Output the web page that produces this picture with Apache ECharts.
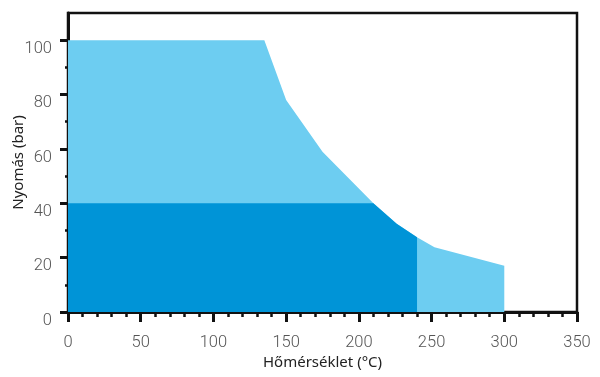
<!DOCTYPE html>
<html>
<head>
<meta charset="utf-8">
<script src="https://cdn.jsdelivr.net/npm/echarts@6/dist/echarts.min.js"></script>
<style>html,body{margin:0;padding:0;background:#fff}#c{width:600px;height:377px}</style>
</head>
<body>
<div id="c"></div>
<script>
// Temperature (°C) and pressure (bar) boundary points
const outerTemps = [0, 135, 150, 175, 210, 226, 240, 252, 300];
const outerPressures = [100, 100, 78, 59, 40, 32.5, 27.5, 23.8, 17];
const innerTemps = [0, 210, 226, 240];
const innerPressures = [40, 40, 32.5, 27.5];
const xTicks = [0, 50, 100, 150, 200, 250, 300, 350];
const yTicks = [0, 20, 40, 60, 80, 100];
const yMinorTicks = [10, 30, 50, 70, 90];
const xName = 'Hőmérséklet (°C)';
const yName = 'Nyomás (bar)';

const outerData = outerTemps.map((t, i) => [t, outerPressures[i]]);
const innerData = innerTemps.map((t, i) => [t, innerPressures[i]]);

const chart = echarts.init(document.getElementById('c'), null, {renderer: 'canvas'});
const labelFont = {color: '#555', fontSize: 16.5, fontFamily: 'Roboto', fontWeight: 300};
chart.setOption({
  animation: false,
  grid: {left: 68, right: 23, top: 13, bottom: 65, show: true, borderColor: '#111', borderWidth: 2.5, backgroundColor: 'transparent', containLabel: false, outerBoundsMode: 'none'},
  xAxis: {
    type: 'value', min: 0, max: 350, interval: 50,
    name: xName, nameLocation: 'middle', nameGap: 43, nameMoveOverlap: false,
    nameTextStyle: {color: '#222', fontSize: 15, fontFamily: 'Noto Sans'},
    axisLine: {show: true, onZero: false, lineStyle: {color: '#111', width: 3}},
    axisTick: {show: true, length: 10, lineStyle: {color: '#111', width: 3}},
    minorTick: {show: true, splitNumber: 5, length: 5, lineStyle: {color: '#111', width: 2.5}},
    splitLine: {show: false},
    axisLabel: Object.assign({margin: 22, hideOverlap: false, formatter: v => xTicks.includes(v) ? String(v) : ''}, labelFont)
  },
  yAxis: [{
    type: 'value', min: 0, max: 110, interval: 20,
    name: yName, nameLocation: 'middle', nameGap: 42, nameMoveOverlap: false,
    nameTextStyle: {color: '#222', fontSize: 15, fontFamily: 'Noto Sans'},
    axisLine: {show: true, onZero: false, lineStyle: {color: '#111', width: 3}},
    axisTick: {show: true, length: 8, customValues: yTicks, lineStyle: {color: '#111', width: 3}},
    minorTick: {show: false},
    splitLine: {show: false},
    axisLabel: Object.assign({margin: 16, verticalAlign: 'top', hideOverlap: false, customValues: yTicks}, labelFont)
  }, {
    type: 'value', min: 0, max: 110, position: 'left',
    axisLine: {show: false},
    axisTick: {show: true, length: 3, customValues: yMinorTicks, lineStyle: {color: '#111', width: 2.5}},
    axisLabel: {show: false},
    splitLine: {show: false}
  }],
  series: [
    {type: 'line', data: outerData, symbol: 'none', lineStyle: {width: 0}, areaStyle: {color: '#6dcdf1', opacity: 1}, z: 1},
    {type: 'line', data: innerData, symbol: 'none', lineStyle: {width: 0}, areaStyle: {color: '#0094d7', opacity: 1}, z: 2}
  ]
});
</script>
</body>
</html>
